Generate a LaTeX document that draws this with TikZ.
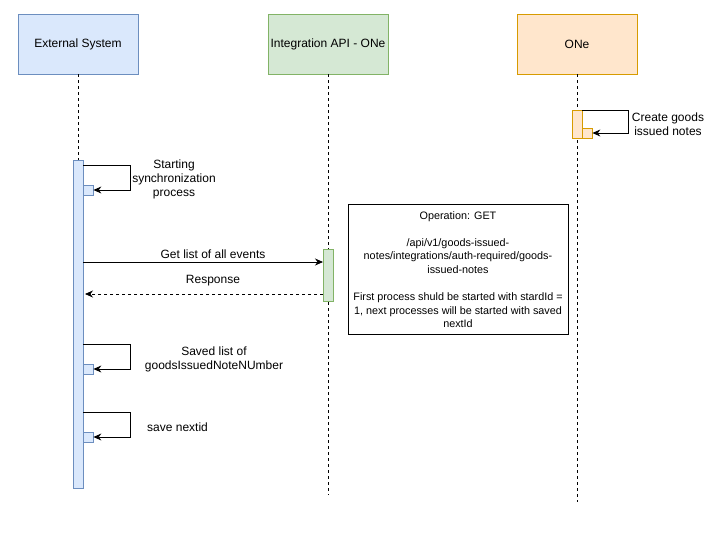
\documentclass[tikz,border=0pt]{standalone}
\usepackage{fontspec}
\setmainfont{Liberation Sans}
\usetikzlibrary{arrows.meta}
\definecolor{bluefill}{HTML}{DAE8FC}
\definecolor{bluedraw}{HTML}{6C8EBF}
\definecolor{greenfill}{HTML}{D5E8D4}
\definecolor{greendraw}{HTML}{82B366}
\definecolor{orangefill}{HTML}{FFE6CC}
\definecolor{orangedraw}{HTML}{D79B00}
\begin{document}
\begin{tikzpicture}[x=1pt,y=-1pt,
  font=\fontsize{12}{14}\selectfont,
  actor/.style={draw, line width=0.8pt, minimum width=120pt, minimum height=60pt, inner sep=0pt},
  lifeline/.style={dashed, line width=0.8pt},
  msg/.style={line width=0.8pt, -{Stealth[length=8pt,width=7pt]}},
  lbl/.style={align=center, inner sep=0pt}
]
\useasboundingbox (0,0) rectangle (717,536);

% actors
\node[actor, fill=bluefill, draw=bluedraw] (ext) at (78,44) {External System};
\node[actor, fill=greenfill, draw=greendraw] (api) at (328,44) {Integration API - ONe};
\node[actor, fill=orangefill, draw=orangedraw] (one) at (577,44) {ONe};

% lifeline ends
\coordinate (extend) at (78,488);
\coordinate (apiend) at (328,495);
\coordinate (oneend) at (577,502);
\draw[lifeline] (ext.south) -- (extend);
\draw[lifeline] (api.south) -- (apiend);
\draw[lifeline] (one.south) -- (oneend);

% activations
\node[draw=bluedraw, fill=bluefill, line width=0.8pt, minimum width=10pt, minimum height=328pt, inner sep=0pt, anchor=north] (extact) at (78,160) {};
\node[draw=greendraw, fill=greenfill, line width=0.8pt, minimum width=10pt, minimum height=52pt, inner sep=0pt, anchor=north] (apiact) at (328,249) {};
\node[draw=orangedraw, fill=orangefill, line width=0.8pt, minimum width=10pt, minimum height=28pt, inner sep=0pt, anchor=north] (oneact) at (577,110) {};

% small self-call boxes
\node[draw=bluedraw, fill=bluefill, line width=0.8pt, minimum width=10pt, minimum height=10pt, inner sep=0pt] (s1) at (88,190) {};
\node[draw=bluedraw, fill=bluefill, line width=0.8pt, minimum width=10pt, minimum height=10pt, inner sep=0pt] (s3) at (88,369) {};
\node[draw=bluedraw, fill=bluefill, line width=0.8pt, minimum width=10pt, minimum height=10pt, inner sep=0pt] (s4) at (88,437) {};
\node[draw=orangedraw, fill=orangefill, line width=0.8pt, minimum width=10pt, minimum height=10pt, inner sep=0pt] (s2) at (587,133) {};

% self calls
\draw[msg] (83,165) -- (130,165) -- (130,190) -- (s1.east);
\node[lbl] (l1) at (174,179) {Starting\\synchronization\\process};

\draw[msg] (oneact.north east) -- (628,110) -- (628,133) -- (s2.east);
\node[lbl] (l2) at (668,124) {Create goods\\issued notes};

\draw[msg] (83,344) -- (130,344) -- (130,369) -- (s3.east);
\node[lbl] (l3) at (214,359) {Saved list of\\goodsIssuedNoteNUmber};

\draw[msg] (83,412) -- (130,412) -- (130,437) -- (s4.east);
\node[lbl, anchor=west] (l4) at (147,427) {save nextid};

% messages
\coordinate (g1) at (83,262);
\coordinate (g2) at (323,262);
\draw[msg] (g1) -- (g2);
\node[lbl] (lg) at (213,254) {Get list of all events};

\coordinate (r1) at (323,294);
\coordinate (r2) at (85,294);
\draw[msg, dashed] (r1) -- (r2);
\node[lbl] (lr) at (213,281) {Response};

% note
\node[draw, fill=white, line width=0.8pt, minimum width=220pt, minimum height=130pt, inner sep=0pt, anchor=north west] (note) at (348,204) {};
\node[lbl, font=\fontsize{10.8}{13.6}\selectfont, anchor=north] (notetext) at (458,211)
 {Operation: GET\\[13.6pt]/api/v1/goods-issued-\\notes/integrations/auth-required/goods-\\issued-notes\\[13.6pt]First process shuld be started with stardId =\\1, next processes will be started with saved\\nextId};
\end{tikzpicture}
\end{document}
